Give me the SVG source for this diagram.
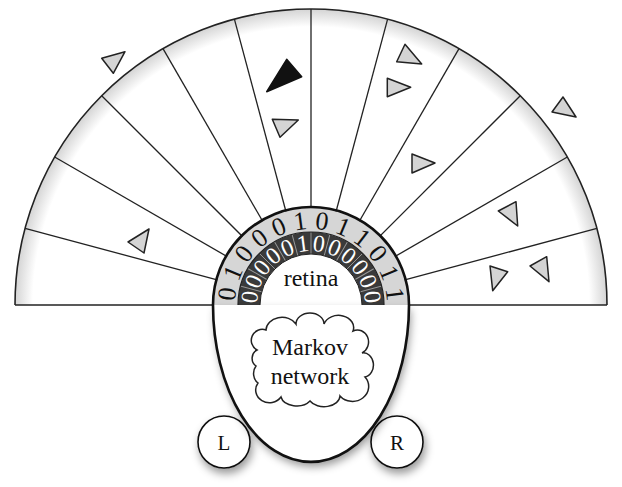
<svg xmlns="http://www.w3.org/2000/svg" width="622" height="487" viewBox="0 0 622 487">
<defs>
<radialGradient id="fanGrad" cx="311" cy="305" r="296" gradientUnits="userSpaceOnUse">
<stop offset="0.94" stop-color="#ffffff"/>
<stop offset="1" stop-color="#d4d4d4"/>
</radialGradient>
<filter id="shadow" x="-30%" y="-30%" width="160%" height="160%">
<feDropShadow dx="2" dy="5" stdDeviation="4" flood-color="#000" flood-opacity="0.4"/>
</filter>
<style>
.sector{stroke:#222;stroke-width:1.3;fill:none}
.tri{fill:#d4d4d4;stroke:#222;stroke-width:1.5;stroke-linejoin:round}
.tri-on{fill:#111;stroke:#111;stroke-width:1.5;stroke-linejoin:round}
.cellDark{stroke:#9a9a9a;stroke-width:0.9}
.dOut{font-family:"Liberation Serif","Times New Roman",serif;font-size:26px;fill:#111;text-anchor:middle}
.dIn{font-family:"Liberation Serif","Times New Roman",serif;font-size:24px;fill:#fff;text-anchor:middle}
.lbl{font-family:"Liberation Serif","Times New Roman",serif;font-size:24px;fill:#111;text-anchor:middle}
.motor{font-family:"Liberation Serif","Times New Roman",serif;font-size:21px;fill:#111;text-anchor:middle}
</style>
</defs>

<g id="field">
<path d="M15,305 A296,296 0 0,1 607,305 Z" fill="url(#fanGrad)"/>
<path d="M15,305 A296,296 0 0,1 607,305" fill="none" stroke="#222" stroke-width="1.6"/>
<line x1="15" y1="305" x2="260" y2="305" stroke="#222" stroke-width="1.6"/>
<line x1="362" y1="305" x2="607" y2="305" stroke="#222" stroke-width="1.6"/>
</g>

<g id="sectors">
<line class="sector" x1="311" y1="232" x2="311" y2="9" transform="rotate(-75 311 305)"/>
<line class="sector" x1="311" y1="232" x2="311" y2="9" transform="rotate(-60 311 305)"/>
<line class="sector" x1="311" y1="232" x2="311" y2="9" transform="rotate(-45 311 305)"/>
<line class="sector" x1="311" y1="232" x2="311" y2="9" transform="rotate(-30 311 305)"/>
<line class="sector" x1="311" y1="232" x2="311" y2="9" transform="rotate(-15 311 305)"/>
<line class="sector" x1="311" y1="232" x2="311" y2="9"/>
<line class="sector" x1="311" y1="232" x2="311" y2="9" transform="rotate(15 311 305)"/>
<line class="sector" x1="311" y1="232" x2="311" y2="9" transform="rotate(30 311 305)"/>
<line class="sector" x1="311" y1="232" x2="311" y2="9" transform="rotate(45 311 305)"/>
<line class="sector" x1="311" y1="232" x2="311" y2="9" transform="rotate(60 311 305)"/>
<line class="sector" x1="311" y1="232" x2="311" y2="9" transform="rotate(75 311 305)"/>
</g>

<g id="objects">
<polygon class="tri" points="101.7,58.3 125,51.7 113.3,73.3"/>
<polygon class="tri-on" points="266.7,91.7 301.7,76.7 286.7,59.3"/>
<polygon class="tri" points="272.3,119.3 298.3,120 280,137.3"/>
<polygon class="tri" points="128,242 149,229 144,253"/>
<polygon class="tri" points="396.7,61.7 421.7,64 405,44.3"/>
<polygon class="tri" points="387.3,78.3 410.7,87.3 387.3,96.7"/>
<polygon class="tri" points="412,154 435,163 412,173"/>
<polygon class="tri" points="552,112 576,117 563,97"/>
<polygon class="tri" points="498.3,211 516,201.7 517.7,226"/>
<polygon class="tri" points="490,266 507.7,271.7 492.7,290.7"/>
<polygon class="tri" points="530,266 546.7,256.7 549,281.7"/>
</g>

<g id="retina">
<path d="M214,305 A97,97 0 0,1 408,305 L384,305 A73,73 0 0,0 238,305 Z" fill="#d6d6d6"/>
<path d="M238,305 A73,73 0 0,1 384,305 L362,305 A51,51 0 0,0 260,305 Z" fill="#3a3a3a"/>
<g class="cellDark">
<line x1="311" y1="254" x2="311" y2="232" transform="rotate(-75 311 305)"/>
<line x1="311" y1="254" x2="311" y2="232" transform="rotate(-60 311 305)"/>
<line x1="311" y1="254" x2="311" y2="232" transform="rotate(-45 311 305)"/>
<line x1="311" y1="254" x2="311" y2="232" transform="rotate(-30 311 305)"/>
<line x1="311" y1="254" x2="311" y2="232" transform="rotate(-15 311 305)"/>
<line x1="311" y1="254" x2="311" y2="232"/>
<line x1="311" y1="254" x2="311" y2="232" transform="rotate(15 311 305)"/>
<line x1="311" y1="254" x2="311" y2="232" transform="rotate(30 311 305)"/>
<line x1="311" y1="254" x2="311" y2="232" transform="rotate(45 311 305)"/>
<line x1="311" y1="254" x2="311" y2="232" transform="rotate(60 311 305)"/>
<line x1="311" y1="254" x2="311" y2="232" transform="rotate(75 311 305)"/>
</g>
<path d="M238,305 A73,73 0 0,1 384,305" fill="none" stroke="#222" stroke-width="1.2"/>
<path d="M260,305 A51,51 0 0,1 362,305" fill="none" stroke="#222" stroke-width="1"/>
<path d="M213,305 A98,98 0 0,1 409,305" fill="none" stroke="#111" stroke-width="2.6"/>
<g class="dOut">
<text x="311" y="229" transform="rotate(-82.5 311 305)">0</text>
<text x="311" y="229" transform="rotate(-67.5 311 305)">1</text>
<text x="311" y="229" transform="rotate(-52.5 311 305)">0</text>
<text x="311" y="229" transform="rotate(-37.5 311 305)">0</text>
<text x="311" y="229" transform="rotate(-22.5 311 305)">0</text>
<text x="311" y="229" transform="rotate(-7.5 311 305)">1</text>
<text x="311" y="229" transform="rotate(7.5 311 305)">0</text>
<text x="311" y="229" transform="rotate(22.5 311 305)">1</text>
<text x="311" y="229" transform="rotate(37.5 311 305)">1</text>
<text x="311" y="229" transform="rotate(52.5 311 305)">0</text>
<text x="311" y="229" transform="rotate(67.5 311 305)">1</text>
<text x="311" y="229" transform="rotate(82.5 311 305)">1</text>
</g>
<g class="dIn">
<text x="311" y="251" transform="rotate(-82.5 311 305)">0</text>
<text x="311" y="251" transform="rotate(-67.5 311 305)">0</text>
<text x="311" y="251" transform="rotate(-52.5 311 305)">0</text>
<text x="311" y="251" transform="rotate(-37.5 311 305)">0</text>
<text x="311" y="251" transform="rotate(-22.5 311 305)">0</text>
<text x="311" y="251" transform="rotate(-7.5 311 305)">1</text>
<text x="311" y="251" transform="rotate(7.5 311 305)">0</text>
<text x="311" y="251" transform="rotate(22.5 311 305)">0</text>
<text x="311" y="251" transform="rotate(37.5 311 305)">0</text>
<text x="311" y="251" transform="rotate(52.5 311 305)">0</text>
<text x="311" y="251" transform="rotate(67.5 311 305)">0</text>
<text x="311" y="251" transform="rotate(82.5 311 305)">0</text>
</g>
<text class="lbl" x="311" y="286">retina</text>
</g>

<g id="motorL">
<circle cx="224" cy="442" r="26" fill="#fff" stroke="#111" stroke-width="1.6" filter="url(#shadow)"/>
<text class="motor" x="224" y="450">L</text>
</g>
<g id="motorR">
<circle cx="397" cy="442" r="26" fill="#fff" stroke="#111" stroke-width="1.6" filter="url(#shadow)"/>
<text class="motor" x="397" y="450">R</text>
</g>

<g id="body">
<path d="M213,305 A98,157 0 0,0 409,305" fill="#fff" filter="url(#shadow)"/>
<path d="M213,305 A98,157 0 0,0 409,305" fill="none" stroke="#111" stroke-width="2.6"/>
</g>

<g id="markov">
<path d="M257,350 A11,11 0 0,1 266,330 A16,13 0 0,1 296,324 A14,11 0 0,1 324,324 A15,12 0 0,1 353,331 A11,12 0 0,1 362,353 A9,11 0 0,1 365,377 A13,12 0 0,1 340,396 A16,11 0 0,1 310,401 A16,11 0 0,1 281,397 A12,11 0 0,1 258,383 A9,11 0 0,1 256,366 A8,9 0 0,1 257,350 Z" fill="#fff" stroke="#222" stroke-width="1.5"/>
<text class="lbl" x="310" y="355">Markov</text>
<text class="lbl" x="310" y="384">network</text>
</g>
</svg>
